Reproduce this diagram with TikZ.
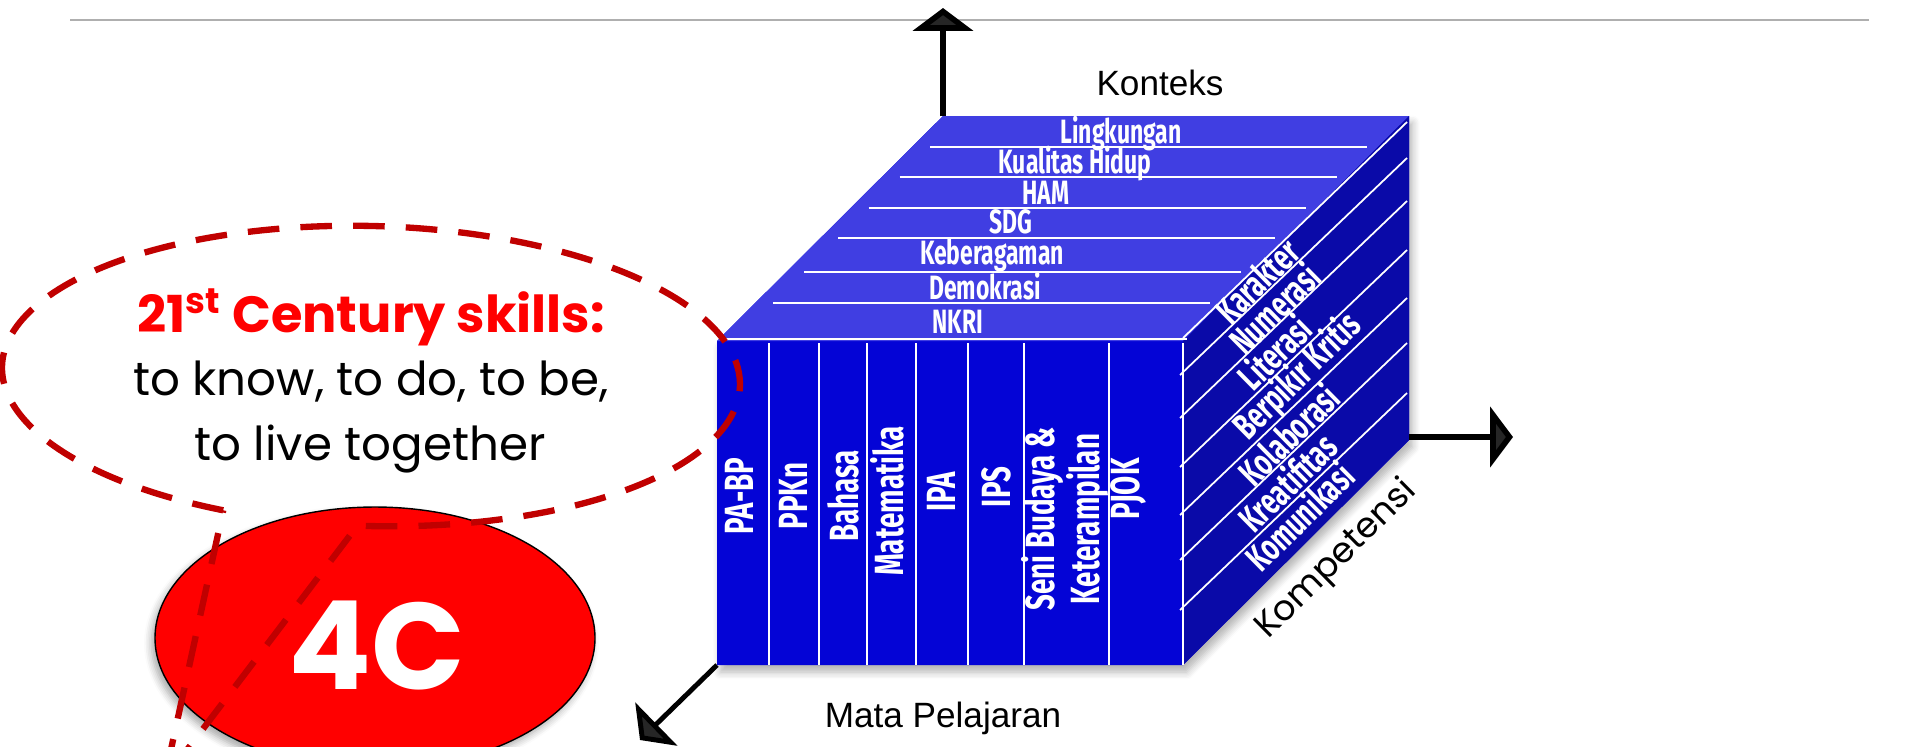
\documentclass[tikz,border=0pt]{standalone}
\usepackage{fontspec}
\usepackage{tikz}
\usetikzlibrary{arrows.meta,shapes.geometric,shadows.blur}
\setmainfont{Liberation Sans}
\newfontfamily\agencyfont[FakeStretch=0.68]{Fira Sans}
\newfontfamily\roundfont{Poppins}
\definecolor{topblue}{RGB}{64,62,226}
\definecolor{frontblue}{RGB}{4,4,214}
\definecolor{sideblue}{RGB}{10,10,168}
\definecolor{darkred}{RGB}{192,0,0}
\definecolor{rulegray}{RGB}{175,175,175}

\begin{document}
\begin{tikzpicture}[x=0.1mm,y=-0.1mm,
	face label/.style={text=white, inner sep=0pt, font=\agencyfont\bfseries\fontsize{9.6}{10}\selectfont},
	col label/.style={text=white, inner sep=0pt, rotate=90, align=center, font=\agencyfont\bfseries\fontsize{11.6}{10}\selectfont},
	side label/.style={text=white, inner sep=0pt, rotate=44.6, font=\agencyfont\bfseries\fontsize{10.6}{11}\selectfont},
	axis label/.style={inner sep=0pt, font=\fontsize{10}{12}\selectfont},
	axis arrow/.style={-{Triangle[length=6.5pt,width=17pt]}, line width=1.6pt},
	white line/.style={white, line width=0.5pt},
	skill text/.style={inner sep=0pt, anchor=base, font=\roundfont\fontsize{13.3}{14}\selectfont}]

	\useasboundingbox (0,0) rectangle (1913,746);
	\clip (0,0) rectangle (1913,746);

	\draw[rulegray, line width=0.6pt] (70,20) -- (1869,20);

	% cube corners
	\coordinate (ftl) at (717,341);
	\coordinate (ftr) at (1183,341);
	\coordinate (fbr) at (1183,665);
	\coordinate (fbl) at (717,665);
	\coordinate (btl) at (943,116);
	\coordinate (btr) at (1409,116);
	\coordinate (bbr) at (1409,440);

	\fill[frontblue, blur shadow={shadow xshift=1pt, shadow yshift=-2pt, shadow opacity=30, shadow blur steps=6}]
		(fbl) -- (ftl) -- (btl) -- (btr) -- (bbr) -- (fbr) -- cycle;
	\fill[topblue] (ftl) -- (ftr) -- (btr) -- (btl) -- cycle;
	\fill[sideblue] (ftr) -- (btr) -- (bbr) -- (fbr) -- cycle;

	% top face: konteks
	\foreach \y in {147,177,208,238,272,303}
		\draw[white line] ({735+(341-\y)*1.004},\y) -- ({1172+(341-\y)*1.004},\y);
	\draw[white line] (722,339) -- (1187,339);
	\node[face label](lingkungan) at (1121,134){Lingkungan};
	\node[face label](kualitas) at (1075,164){Kualitas Hidup};
	\node[face label](ham) at (1046,193){HAM};
	\node[face label](sdg) at (1011,222){SDG};
	\node[face label](keberagaman) at (992,255){Keberagaman};
	\node[face label](demokrasi) at (985,286){Demokrasi};
	\node[face label](nkri) at (958,322){NKRI};

	% front face: mata pelajaran
	\foreach \x in {769,819,867,916,968,1024,1109,1183}
		\draw[white line] (\x,343) -- (\x,665);
	\node[col label](pabp) at (739,496){PA-BP};
	\node[col label](ppkn) at (793,496){PPKn};
	\node[col label](bahasa) at (843,496){Bahasa};
	\node[col label](mtk) at (887,501){Matematika};
	\node[col label](ipa) at (941,492){IPA};
	\node[col label](ips) at (996,487){IPS};
	\node[col label](sbk) at (1065,519){Seni Budaya \&\\Keterampilan};
	\node[col label](pjok) at (1128,489){PJOK};

	% right face: kompetensi
	\draw[white line] (1183,338) -- (1407,122);
	\foreach \y in {375,418,467,515,560,610}
		\draw[white line] (1180,\y) -- ++(227,-217);
	\node[side label](karakter) at (1257,281){Karakter};
	\node[side label](numerasi) at (1274,308){Numerasi};
	\node[side label](literasi) at (1274,352){Literasi};
	\node[side label](berpikir) at (1298,377){Berpikir Kritis};
	\node[side label](kolaborasi) at (1288,434){Kolaborasi};
	\node[side label](kreatifitas) at (1287,482){Kreatifitas};
	\node[side label](komunikasi) at (1299,516){Komunikasi};

	% axes
	\coordinate (konteks end) at (943,8);
	\coordinate (kompetensi end) at (1513,437);
	\coordinate (mapel end) at (640,740);
	\draw[axis arrow] (btl) -- (konteks end);
	\draw[axis arrow] (1409,437) -- (kompetensi end);
	\draw[axis arrow, line width=1.4pt] (fbl) -- (mapel end);
	\node[axis label](konteks) at (1160,83){Konteks};
	\node[axis label](mapel) at (943,718){Mata Pelajaran};
	\node[axis label, rotate=44.6, font=\roundfont\fontsize{10}{12}\selectfont](kompetensi) at (1337,560){Kompetensi};

	% 4C
	\node[ellipse, draw=black, line width=0.4pt, fill=red, minimum width=44mm, minimum height=26.2mm,
		blur shadow={shadow xshift=-1pt, shadow yshift=-1.5pt, shadow opacity=35, shadow blur steps=5}](fourc) at (375,638){};
	\node[text=white, inner sep=0pt, font=\roundfont\bfseries\fontsize{35}{38}\selectfont](fourc text) at (377,646){4C};

	% callout
	\draw[darkred, line width=1.8pt, dash pattern=on 9pt off 6pt, rotate around={-1.5:(371,376)}]
		(226.8,514.1) arc[start angle=113, end angle=451.5, x radius=369, y radius=150] -- (175,785) -- cycle;
	\node[skill text, text=red, font=\roundfont\bfseries\fontsize{14.5}{16}\selectfont](skills) at (371,332){21\textsuperscript{st} Century skills:};
	\node[skill text](know) at (371,395){to know, to do, to be,};
	\node[skill text](live) at (370,460){to live together};
\end{tikzpicture}
\end{document}
